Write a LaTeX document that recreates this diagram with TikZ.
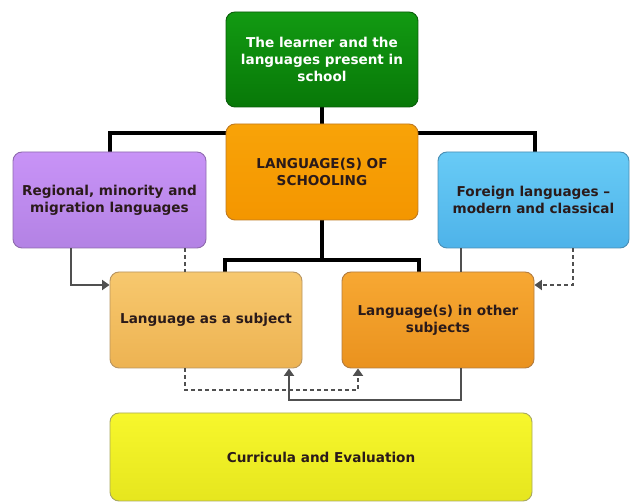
\documentclass[tikz,border=0pt]{standalone}
\usepackage{fontspec}
\setmainfont{DejaVu Sans}
\usetikzlibrary{arrows.meta,calc}
\definecolor{gTop}{HTML}{129A12}\definecolor{gBot}{HTML}{087808}\definecolor{gBrd}{HTML}{0A5E0A}
\definecolor{oTop}{HTML}{F8A308}\definecolor{oBot}{HTML}{F49600}\definecolor{oBrd}{HTML}{C07A20}
\definecolor{pTop}{HTML}{C893F7}\definecolor{pBot}{HTML}{B382E4}\definecolor{pBrd}{HTML}{8E6AAE}
\definecolor{bTop}{HTML}{68CBF6}\definecolor{bBot}{HTML}{4EB3E9}\definecolor{bBrd}{HTML}{4A8EB4}
\definecolor{lTop}{HTML}{F7C86E}\definecolor{lBot}{HTML}{EDB352}\definecolor{lBrd}{HTML}{B89460}
\definecolor{rTop}{HTML}{F7A833}\definecolor{rBot}{HTML}{EA921E}\definecolor{rBrd}{HTML}{B47C3E}
\definecolor{yTop}{HTML}{F7F72C}\definecolor{yBot}{HTML}{E6E61E}\definecolor{yBrd}{HTML}{A8A860}
\definecolor{txt}{HTML}{2A1A1A}
\definecolor{cn}{HTML}{505050}
\begin{document}
\begin{tikzpicture}[x=1pt,y=-1pt,
  box/.style={rectangle,rounded corners=9pt,line width=0.9pt,align=center,
    font=\bfseries\fontsize{13.6}{17}\selectfont,text=txt},
  thick line/.style={line width=3.8pt,black},
  conn/.style={line width=1.8pt,draw=cn},
  dconn/.style={line width=1.8pt,draw=cn,dash pattern=on 4pt off 3pt},
  tip/.style={-{Triangle[length=7.5pt,width=10pt]}}
]
\useasboundingbox (0,0) rectangle (630,502);
\fill[white] (0,0) rectangle (630,502);

% coordinates for the connector routes
\coordinate (hL) at (110,133);
\coordinate (hR) at (535,133);
\coordinate (mL) at (225,260);
\coordinate (mR) at (419,260);

% thick black connectors (drawn behind the boxes)
\draw[thick line] (110,154) -- (hL) -- (hR) -- (535,154);
\draw[thick line] (322,105) -- (322,262);
\draw[thick line] (225,274) -- (mL) -- (mR) -- (419,274);

% boxes
\node[box,draw=gBrd,top color=gTop,bottom color=gBot,
  minimum width=192pt,minimum height=95pt,text=white] (learner) at (322,59.5)
  {The learner and the\\languages present in\\school};
\node[box,draw=oBrd,top color=oTop,bottom color=oBot,
  minimum width=192pt,minimum height=96pt] (schooling) at (322,172)
  {LANGUAGE(S) OF\\SCHOOLING};
\node[box,draw=pBrd,top color=pTop,bottom color=pBot,
  minimum width=193pt,minimum height=96pt] (regional) at (109.5,200)
  {Regional, minority and\\migration languages};
\node[box,draw=bBrd,top color=bTop,bottom color=bBot,
  minimum width=191pt,minimum height=96pt] (foreign) at (533.5,200)
  {Foreign languages --\\modern and classical};
\node[box,draw=lBrd,top color=lTop,bottom color=lBot,
  minimum width=192pt,minimum height=96pt] (subject) at (206,320)
  {Language as a subject};
\node[box,draw=rBrd,top color=rTop,bottom color=rBot,
  minimum width=192pt,minimum height=96pt] (other) at (438,320)
  {Language(s) in other\\subjects};
\node[box,draw=yBrd,top color=yTop,bottom color=yBot,
  minimum width=422pt,minimum height=88pt] (curr) at (321,457)
  {Curricula and Evaluation};

% gray connectors
\coordinate (pA) at (71,285);
\coordinate (fA) at (573,285);
\coordinate (bL) at (185,390);
\coordinate (bR) at (358,390);
\coordinate (cL) at (289,400);
\coordinate (cR) at (461,400);

\draw[conn,tip] (regional.south -| pA) -- (pA) -- (subject.west |- pA);
\draw[dconn] (regional.south -| 185,0) -- (subject.north -| 185,0);
\draw[conn] (foreign.south -| 461,0) -- (other.north -| 461,0);
\draw[dconn,tip] (foreign.south -| fA) -- (fA) -- (other.east |- fA);
\draw[dconn,tip] (subject.south -| bL) -- (bL) -- (bR) -- (other.south -| bR);
\draw[conn,tip] (other.south -| cR) -- (cR) -- (cL) -- (subject.south -| cL);
\end{tikzpicture}
\end{document}
